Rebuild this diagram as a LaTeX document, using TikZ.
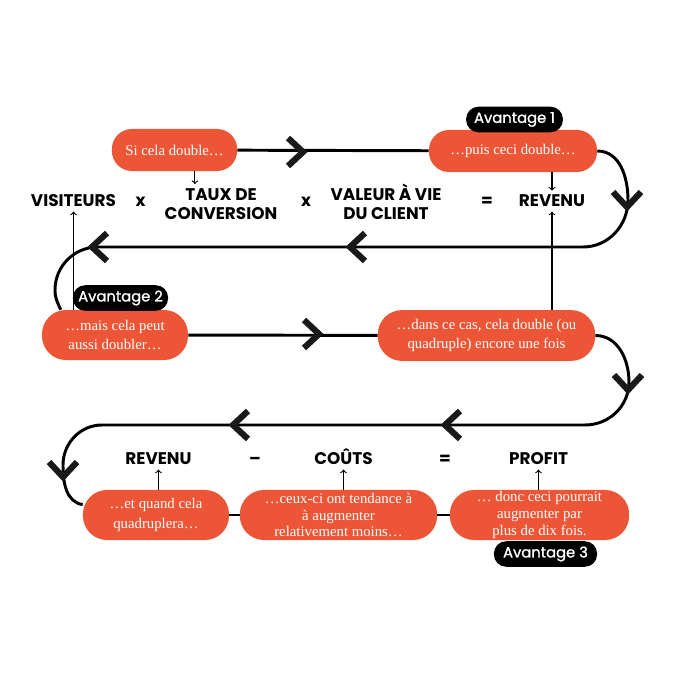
\documentclass[tikz,border=0pt]{standalone}
\usepackage{fontspec}
\usepackage{xcolor}
\usepackage{tikz}
\setmainfont{Liberation Serif}
\newfontfamily\poppins{Poppins}
\newfontfamily\poppinsgras{Poppins}[FakeBold=1.2]
\definecolor{corail}{HTML}{EC5637}

\begin{document}
\begin{tikzpicture}[x=0.025cm, y=0.025cm,
    bulle/.style={fill=corail, text=white, align=center, rounded corners=0.5cm, inner sep=0pt, font=\fontsize{10.5}{14}\selectfont},
    etiquette/.style={fill=black, text=white, rounded corners=0.31cm, inner sep=0pt, minimum height=0.64cm, font=\poppinsgras\fontsize{10.5}{12}\selectfont},
    terme/.style={align=center, inner sep=3pt, font=\poppins\bfseries\fontsize{12}{13.5}\selectfont},
    boucle/.style={line width=2.1pt},
    fine/.style={->, line width=0.8pt},
    chevron/.pic={\draw[line width=4.4pt, black!90] (-18,14) -- (-3,0) -- (-18,-14);}]

      \useasboundingbox (0,0) rectangle (700,700);

      \node[bulle, minimum width=3.13cm, minimum height=1.05cm]  (si)    at (174.5, 550)   {Si cela double…};
      \node[bulle, minimum width=4.2cm,  minimum height=1.05cm]  (puis)  at (513,   549)   {…puis ceci double…};
      \node[bulle, minimum width=3.65cm, minimum height=1.25cm, rounded corners=0.6cm]  (mais)  at (115,   365)   {…mais cela peut\\aussi doubler…};
      \node[bulle, minimum width=5.43cm, minimum height=1.27cm, rounded corners=0.6cm]  (dans)  at (486.5, 364.5) {…dans ce cas, cela double (ou\\quadruple) encore une fois};
      \node[bulle, minimum width=3.65cm, minimum height=1.25cm, rounded corners=0.6cm]  (quand) at (156,   185)   {…et quand cela\\quadruplera…};
      \node[bulle, minimum width=4.93cm, minimum height=1.25cm, rounded corners=0.6cm, font=\fontsize{10.5}{11.8}\selectfont]  (ceux)  at (338.5, 185) {…ceux-ci ont tendance à\\à augmenter\\relativement moins…};
      \node[bulle, minimum width=4.48cm, minimum height=1.25cm, rounded corners=0.6cm, font=\fontsize{10.5}{11.8}\selectfont]  (donc)  at (539.5, 185) {… donc ceci pourrait\\augmenter par\\plus de dix fois.};

      \node[etiquette, minimum width=2.42cm]  (av1)  at (514.5, 580.5) {Avantage 1};
      \node[etiquette, minimum width=2.38cm]  (av2)  at (120.5, 402)   {Avantage 2};
      \node[etiquette, minimum width=2.58cm]  (av3)  at (545.5, 146)   {Avantage 3};

      \node[terme, anchor=base]  (visit)   at (73.5,  493)   {VISITEURS};
      \node[terme, anchor=base]  (foisA)   at (140.5, 493)   {x};
      \node[terme]               (taux)    at (221,   496)   {TAUX DE\\CONVERSION};
      \node[terme, anchor=base]  (foisB)   at (306,   493)   {x};
      \node[terme]               (valeur)  at (386,   498)   {VALEUR À VIE\\DU CLIENT};
      \node[terme, anchor=base]  (egalA)   at (487,   493)   {=};
      \node[terme, anchor=base]  (revenuA) at (552,   493)   {REVENU};

      \node[terme, anchor=base]  (revenuB) at (158.5, 235)   {REVENU};
      \node[terme, anchor=base]  (moins)   at (255,   235)   {–};
      \node[terme, anchor=base]  (couts)   at (343.5, 235)   {COÛTS};
      \node[terme, anchor=base]  (egalB)   at (445,   235)   {=};
      \node[terme, anchor=base]  (profit)  at (538.5, 235)   {PROFIT};

      \draw[boucle] (si) -- (puis);
      \draw[boucle] (puis.east) to[out=0, in=90] (628, 500) to[out=-90, in=0] (583, 453)
                    -- (98, 453) to[out=180, in=90] (55, 410) to[out=-90, in=115] (mais.155);
      \draw[boucle] (mais) -- (dans);
      \draw[boucle] (dans.east) to[out=0, in=90] (629, 318) to[out=-90, in=0] (585, 275)
                    -- (102, 275) to[out=180, in=90] (63, 235) to[out=-90, in=170] (quand.172);
      \draw[boucle] (quand) -- (ceux);
      \draw[boucle] (ceux) -- (donc);

      \pic              at (306, 548) {chevron};
      \pic[rotate=-90]  at (627, 490) {chevron};
      \pic[rotate=180]  at (347, 453) {chevron};
      \pic[rotate=180]  at (89,  453) {chevron};
      \pic              at (322, 366) {chevron};
      \pic[rotate=-90]  at (628, 307) {chevron};
      \pic[rotate=180]  at (442, 275) {chevron};
      \pic[rotate=180]  at (230, 275) {chevron};
      \pic[rotate=-90]  at (63,  220) {chevron};

      \draw[fine] ([xshift=0.51cm]si.south) -- ([xshift=0.51cm]si.south |- taux.north);
      \draw[fine] (revenuA.north |- puis.south) -- (revenuA.north);
      \draw[fine] (revenuA.south |- dans.north) -- (revenuA.south);
      \draw[fine] (visit.south |- mais.north) -- (visit.south);
      \draw[fine] (revenuB.south |- quand.north) -- (revenuB.south);
      \draw[fine] (couts.south |- ceux.north) -- (couts.south);
      \draw[fine] (profit.south |- donc.north) -- (profit.south);
\end{tikzpicture}
\end{document}
